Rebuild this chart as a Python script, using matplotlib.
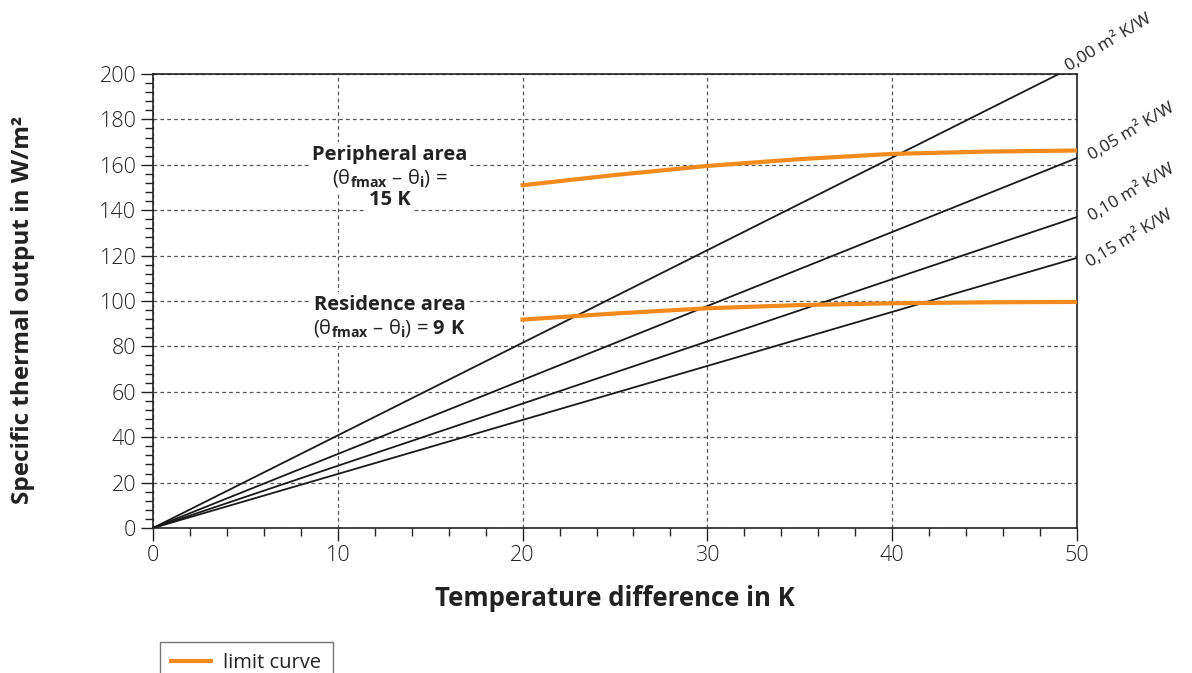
import matplotlib
matplotlib.use("Agg")
import matplotlib.pyplot as plt
from matplotlib.ticker import MultipleLocator

plt.rcParams['font.family'] = ['Open Sans', 'DejaVu Sans']
plt.rcParams['mathtext.fontset'] = 'custom'
plt.rcParams['mathtext.rm'] = 'Open Sans'
plt.rcParams['mathtext.bf'] = 'Open Sans:bold'
plt.rcParams['mathtext.it'] = 'Open Sans:italic'

# Data
resistance_labels = ["0,00 m² K/W", "0,05 m² K/W", "0,10 m² K/W", "0,15 m² K/W"]
slopes = [4.08, 3.26, 2.74, 2.38]  # W/m² per K
line_x = [0, 50]

limit_x = [20, 25, 30, 35, 40, 45, 50]
peripheral_y = [151, 155.5, 159.5, 162.5, 164.8, 165.8, 166.3]
residence_y = [91.8, 94.5, 96.8, 98.2, 99.0, 99.4, 99.6]

orange = '#f28a1e'
dark = '#222222'

fig = plt.figure(figsize=(11.92, 6.73), dpi=100)
ax = fig.add_axes([153/1192, 1 - 528/673, (1077-153)/1192, (528-74)/673])

for s in slopes:
    ys = [s * x for x in line_x]
    ax.plot(line_x, ys, color='#1a1a1a', lw=1.3, zorder=3)

ax.plot(limit_x, peripheral_y, color=orange, lw=3, zorder=4, label='limit curve')
ax.plot(limit_x, residence_y, color=orange, lw=3, zorder=4)

ax.set_xlim(0, 50)
ax.set_ylim(0, 200)
ax.xaxis.set_major_locator(MultipleLocator(10))
ax.xaxis.set_minor_locator(MultipleLocator(2))
ax.yaxis.set_major_locator(MultipleLocator(20))
ax.yaxis.set_minor_locator(MultipleLocator(4))
ax.tick_params(axis='both', which='major', direction='out', length=9, width=1,
               labelsize=15.5, colors=dark, pad=3)
ax.tick_params(axis='both', which='minor', direction='out', length=6, width=1, colors=dark)
for lab in ax.get_xticklabels() + ax.get_yticklabels():
    lab.set_fontweight('light')
ax.grid(True, which='major', linestyle=(0, (3, 2.5)), color='#555555', lw=0.9)
for sp in ax.spines.values():
    sp.set_color(dark)
    sp.set_linewidth(1.2)

ax.set_xlabel('Temperature difference in K', fontsize=18.5, fontweight='bold', labelpad=14, color=dark)
ax.set_ylabel('Specific thermal output in W/m²', fontsize=17.5, fontweight='bold', color=dark)
ax.yaxis.set_label_coords(-0.128, 0.48)

# Line labels
label_pos = [(49.7, 199.5), (50.9, 160.5), (50.9, 133.5), (50.8, 113.5)]
for (lx, ly), txt in zip(label_pos, resistance_labels):
    ax.text(lx, ly, txt, rotation=31, rotation_mode='anchor', ha='left', va='bottom',
            fontsize=12.3, color=dark, clip_on=False)

bbox = dict(facecolor='white', edgecolor='none', pad=2)
cx = 12.8
ax.text(cx, 164.3, 'Peripheral area', ha='center', va='center', fontsize=14.5, fontweight='bold', bbox=bbox, color=dark, zorder=5)
ax.text(cx, 154.2, r'(θ$_{\mathbf{fmax}}$ – θ$_{\mathbf{i}}$) =', ha='center', va='center', fontsize=14.5, bbox=bbox, color=dark, zorder=5)
ax.text(cx, 144.5, '15 K', ha='center', va='center', fontsize=14.5, fontweight='bold', bbox=bbox, color=dark, zorder=5)
ax.text(cx, 98.2, 'Residence area', ha='center', va='center', fontsize=14.5, fontweight='bold', bbox=bbox, color=dark, zorder=5)
ax.text(cx, 88.1, r'(θ$_{\mathbf{fmax}}$ – θ$_{\mathbf{i}}$) = $\mathbf{9\ K}$', ha='center', va='center', fontsize=14.5, bbox=bbox, color=dark, zorder=5)

leg = fig.legend(loc='upper left', bbox_to_anchor=(160/1192, 1 - 642/673), borderaxespad=0,
                 fontsize=14.5, frameon=True, fancybox=False, edgecolor='#555555',
                 handlelength=2.0, handletextpad=0.6, borderpad=0.55, labelcolor=dark)
leg.get_frame().set_linewidth(1.0)

fig.savefig('out.png', dpi=100)
